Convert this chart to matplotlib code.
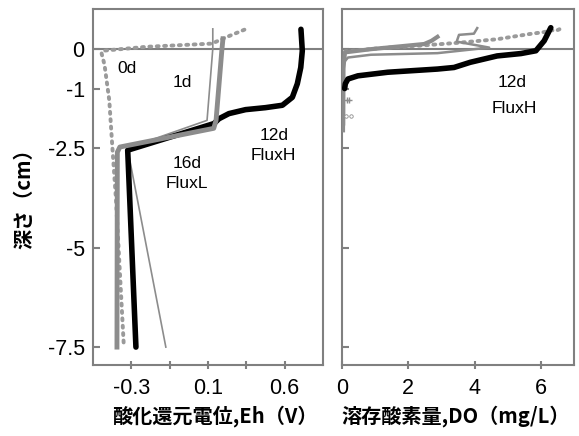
import matplotlib
matplotlib.use("Agg")
import matplotlib.pyplot as plt

plt.rcParams['font.family'] = ['Liberation Sans', 'DejaVu Sans']

# ---------------- data ----------------
depth_ticks = [0, -1, -2.5, -5, -7.5]
depth_ticklabels = ['0', '-1', '-2.5', '-5', '-7.5']

eh_ticks = [-0.3, -0.1, 0.1, 0.3, 0.5]
eh_ticklabels = ['-0.3', '', '0.1', '', '0.6']
do_ticks = [0, 2, 4, 6]
do_ticklabels = ['0', '2', '4', '6']

# Eh profiles (V) vs depth (cm)
eh_0d = [0.29, 0.20, 0.12, -0.05, -0.22, -0.45, -0.455, -0.44, -0.415, -0.40, -0.38, -0.34]
dep_eh_0d = [0.48, 0.30, 0.13, 0.09, 0.05, -0.05, -0.12, -0.40, -1.30, -2.40, -3.80, -7.40]

eh_1d = [0.125, 0.125, 0.095, -0.32, -0.12]
dep_eh_1d = [0.50, 0.00, -1.80, -2.50, -7.50]

eh_16d = [0.178, 0.172, 0.142, 0.130, -0.360, -0.373, -0.375]
dep_eh_16d = [0.25, -0.05, -1.80, -2.00, -2.47, -2.60, -7.50]

eh_12d = [0.585, 0.592, 0.584, 0.566, 0.540, 0.488, 0.40, 0.296, 0.209, 0.157, 0.131, -0.319, -0.276]
dep_eh_12d = [0.49, -0.05, -0.47, -0.88, -1.22, -1.42, -1.48, -1.53, -1.63, -1.76, -1.88, -2.55, -7.50]

# DO profiles (mg/L) vs depth (cm)
do_0d = [0.09, 1.2, 2.37, 3.5, 4.68, 5.65, 6.1, 6.3, 6.45, 6.64]
dep_do_0d = [-0.07, 0.02, 0.08, 0.15, 0.24, 0.37, 0.42, 0.47, 0.45, 0.52]

do_1d = [4.08, 3.98, 3.53, 3.46, 4.44, 2.88, 0.87, 0.18, 0.06, 0.06]
dep_do_1d = [0.52, 0.38, 0.35, 0.18, 0.03, -0.11, -0.15, -0.22, -0.34, -1.90]

do_16d = [2.88, 2.70, 2.48, 0.87, 0.09, 0.04, 0.03]
dep_do_16d = [0.30, 0.20, 0.12, -0.01, -0.09, -0.50, -2.05]

do_12d = [6.3, 6.1, 5.85, 5.4, 4.68, 3.87, 3.38, 2.88, 1.38, 0.48, 0.18, 0.10, 0.08]
dep_do_12d = [0.53, 0.20, -0.05, -0.12, -0.18, -0.34, -0.47, -0.51, -0.59, -0.68, -0.76, -0.88, -1.00]

do_extra_plus = [0.15, 0.22]
dep_extra_plus = [-1.30, -1.30]
do_extra_circ = [0.12, 0.28]
dep_extra_circ = [-1.68, -1.68]

# ---------------- figure ----------------
GREY = '#8c8c8c'
DOT = '#9a9a9a'
SPINE = '#808080'

fig = plt.figure(figsize=(5.79, 4.36), dpi=100)
ax1 = fig.add_axes([93/579, 1-365/436, 230/579, 356/436])
ax2 = fig.add_axes([342/579, 1-365/436, 232/579, 356/436])

for ax in (ax1, ax2):
    ax.axhline(0, color=SPINE, lw=1.5, zorder=1)
    for s in ax.spines.values():
        s.set_color(SPINE)
        s.set_linewidth(1.5)
    ax.set_ylim(-7.95, 1.0)
    ax.set_yticks(depth_ticks)
    ax.tick_params(axis='y', direction='in', length=5, width=1.5, color=SPINE, labelsize=15.5, pad=6)
    ax.tick_params(axis='x', direction='inout', length=6, width=1.5, color=SPINE, labelsize=15.5, pad=6)

ax1.set_yticklabels(depth_ticklabels)
ax2.set_yticklabels([])

# Eh panel
ax1.plot(eh_0d, dep_eh_0d, color=DOT, lw=2.8, linestyle=(0, (0.5, 1.4)), dash_capstyle='round', zorder=3)
ax1.plot(eh_1d, dep_eh_1d, color=GREY, lw=1.2, zorder=3)
ax1.plot(eh_12d, dep_eh_12d, color='black', lw=4, solid_capstyle='round', solid_joinstyle='round', zorder=4)
ax1.plot(eh_16d, dep_eh_16d, color=GREY, lw=3.5, solid_joinstyle='round', zorder=5)
ax1.set_xlim(-0.5, 0.7)
ax1.set_xticks(eh_ticks)
ax1.set_xticklabels(eh_ticklabels)

tk = dict(fontsize=12.5, ha='center', va='center')
ax1.text(-0.32, -0.5, '0d', **tk)
ax1.text(-0.035, -0.85, '1d', **tk)
ax1.text(0.445, -2.18, '12d', **tk)
ax1.text(0.44, -2.68, 'FluxH', **tk)
ax1.text(-0.01, -2.88, '16d', **tk)
ax1.text(-0.01, -3.38, 'FluxL', **tk)

# DO panel
ax2.plot(do_0d, dep_do_0d, color=DOT, lw=2.8, linestyle=(0, (0.5, 1.4)), dash_capstyle='round', zorder=3)
ax2.plot(do_1d, dep_do_1d, color=GREY, lw=1.8, zorder=3)
ax2.plot(do_16d, dep_do_16d, color=GREY, lw=3.0, zorder=4)
ax2.plot(do_12d, dep_do_12d, color='black', lw=4, solid_capstyle='round', solid_joinstyle='round', zorder=5)
ax2.plot(do_extra_plus, dep_extra_plus, color=GREY, lw=0, marker='+', ms=4, zorder=5)
ax2.plot(do_extra_circ, dep_extra_circ, color=GREY, lw=0, marker='o', ms=2.5, mfc='white', mew=0.6, zorder=5)
ax2.set_xlim(0, 7)
ax2.set_xticks(do_ticks)
ax2.set_xticklabels(do_ticklabels)
ax2.text(5.13, -0.85, '12d', **tk)
ax2.text(5.2, -1.5, 'FluxH', **tk)

jp = ['Noto Sans CJK JP', 'DejaVu Sans']
ax1.set_xlabel('酸化還元電位,Eh（V）', family=jp, fontsize=14.5, fontweight='bold')
ax2.set_xlabel('溶存酸素量,DO（mg/L）', family=jp, fontsize=14.5, fontweight='bold')
ax1.xaxis.set_label_coords(0.53, -0.112)
ax2.xaxis.set_label_coords(0.49, -0.112)
ax1.set_ylabel('深さ（cm）', family=jp, fontsize=14.5, fontweight='bold')
ax1.yaxis.set_label_coords(-0.255, 0.48)

fig.savefig('out.png', dpi=100)
